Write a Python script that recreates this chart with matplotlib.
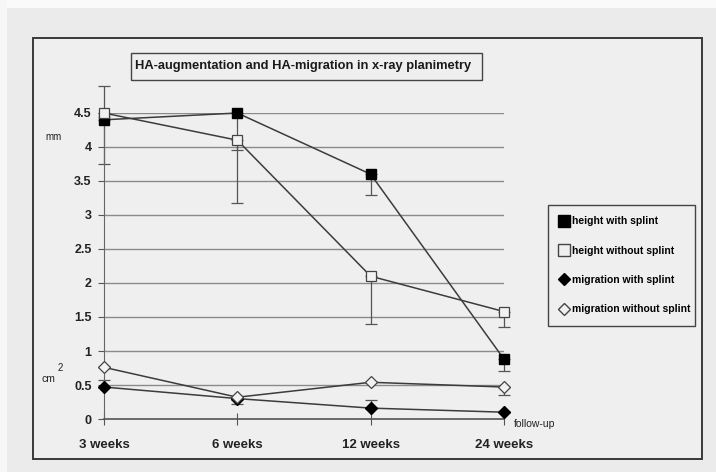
import matplotlib
matplotlib.use("Agg")
import matplotlib.pyplot as plt
from matplotlib.patches import Rectangle
from matplotlib.lines import Line2D
import numpy as np

plt.rcParams['font.family'] = ['Liberation Sans', 'DejaVu Sans']

categories = ["3 weeks", "6 weeks", "12 weeks", "24 weeks"]
height_with = [4.4, 4.5, 3.6, 0.88]
height_with_lo = [3.75, 3.95, 3.3, 0.71]
height_without = [4.5, 4.1, 2.1, 1.58]
height_without_lo = [4.5, 3.17, 1.4, 1.35]
height_without_hi = [4.9, 4.1, 2.1, 1.58]
migr_with = [0.47, 0.3, 0.16, 0.1]
migr_with_hi = [0.57, 0.3, 0.28, 0.1]
migr_without = [0.76, 0.32, 0.54, 0.47]
migr_without_lo = [0.76, 0.22, 0.54, 0.36]
yticks = [0, 0.5, 1, 1.5, 2, 2.5, 3, 3.5, 4, 4.5]
title = "HA-augmentation and HA-migration in x-ray planimetry"
legend_labels = ["height with splint", "height without splint",
                 "migration with splint", "migration without splint"]

W, H = 716, 472
fig = plt.figure(figsize=(W / 100, H / 100), dpi=100)
fig.patch.set_facecolor('#ebebeb')

# scanned page edges
fig.patches.append(Rectangle((0, 1 - 8 / H), 1, 8 / H, transform=fig.transFigure,
                             facecolor='#fafafa', edgecolor='none', zorder=-6))
fig.patches.append(Rectangle((0, 0), 7 / W, 1, transform=fig.transFigure,
                             facecolor='#f7f7f7', edgecolor='none', zorder=-6))

# outer frame
frame = Rectangle((33 / W, 1 - 459 / H), (702 - 33) / W, (459 - 38) / H,
                  transform=fig.transFigure, facecolor='#efefef',
                  edgecolor='#3a3a3a', linewidth=1.4, zorder=-5)
fig.patches.append(frame)

ax = fig.add_axes([104 / W, 1 - 419 / H, 400 / W, 306 / H])
ax.set_zorder(2)
ax.set_facecolor('none')
x = np.arange(len(categories))
ax.set_xlim(0, 3)
ax.set_ylim(0, 4.5)

line_c = '#3c3c3c'
err_c = '#555555'
fill_c = '#f2f2f2'

for sp in ['top', 'right']:
    ax.spines[sp].set_visible(False)
ax.spines['left'].set_color('#666666')
ax.spines['bottom'].set_color('#555555')
ax.spines['bottom'].set_linewidth(1.2)

ax.set_yticks(yticks)
ax.set_yticklabels([f"{v:g}" for v in yticks], fontsize=9, fontweight='bold', color='#222222')
ax.set_xticks(x)
ax.set_xticklabels(categories, fontsize=9.5, fontweight='bold', color='#222222')
ax.tick_params(axis='y', length=4, pad=5, color='#555555')
ax.tick_params(axis='x', direction='inout', length=9, pad=10, color='#555555')
ax.grid(axis='y', color='#8a8a8a', linewidth=1.0)
ax.set_axisbelow(True)


def errbars(xs, lo, hi):
    ax.errorbar(xs, [(a + b) / 2 for a, b in zip(lo, hi)],
                yerr=[(b - a) / 2 for a, b in zip(lo, hi)], fmt='none',
                ecolor=err_c, elinewidth=0.9, capsize=4, capthick=0.9,
                clip_on=False, zorder=2)


errbars(x, height_with_lo, height_with)
errbars(x, height_without_lo, height_without_hi)
errbars(x, migr_with, migr_with_hi)
errbars(x, migr_without_lo, migr_without)

ms = 7.5
ax.plot(x, height_with, color=line_c, lw=1.1, marker='s', ms=ms, mfc='black', mec='black',
        clip_on=False, zorder=4)
ax.plot(x, height_without, color=line_c, lw=1.1, marker='s', ms=ms, mfc=fill_c, mec='#444444',
        mew=0.9, clip_on=False, zorder=5)
ax.plot(x, migr_with, color=line_c, lw=1.1, marker='D', ms=6, mfc='black', mec='black',
        clip_on=False, zorder=4)
ax.plot(x, migr_without, color=line_c, lw=1.1, marker='D', ms=6.5, mfc=fill_c, mec='#444444',
        mew=0.9, clip_on=False, zorder=5)

# title box
fig.patches.append(Rectangle((131 / W, 1 - 80 / H), (482 - 131) / W, (80 - 53) / H,
                             transform=fig.transFigure, facecolor='#efefef',
                             edgecolor='#444444', linewidth=1.0, zorder=1))
fig.text(135 / W, 1 - 66.5 / H, title, fontsize=9.3, fontweight='bold',
         va='center', ha='left', color='#1a1a1a')

# unit labels
fig.text(45 / W, 1 - 137 / H, "mm", fontsize=7, color='#222222', va='center')
fig.text(42 / W, 1 - 379 / H, "cm", fontsize=7.5, color='#222222', va='center')
fig.text(58 / W, 1 - 368 / H, "2", fontsize=7, color='#222222', va='center')
fig.text(514 / W, 1 - 424 / H, "follow-up", fontsize=7.5, color='#222222', va='center')

# legend
handles = [
    Line2D([], [], ls='none', marker='s', ms=8, mfc='black', mec='black'),
    Line2D([], [], ls='none', marker='s', ms=8, mfc='none', mec='#444444'),
    Line2D([], [], ls='none', marker='D', ms=6, mfc='black', mec='black'),
    Line2D([], [], ls='none', marker='D', ms=6.5, mfc='none', mec='#444444'),
]
leg = fig.legend(handles, legend_labels, loc='upper left',
                 bbox_to_anchor=(548 / W, 1 - 328 / H, (695 - 548) / W, (328 - 205) / H),
                 mode='expand', frameon=True, fancybox=False,
                 edgecolor='#444444', facecolor='#efefef', framealpha=1,
                 handlelength=0.8, handletextpad=0.4, labelspacing=1.85,
                 borderpad=1.1, borderaxespad=0, prop={'weight': 'bold', 'size': 7.5})
leg.get_frame().set_linewidth(1.0)

fig.savefig("out.png", dpi=100, facecolor=fig.get_facecolor())
